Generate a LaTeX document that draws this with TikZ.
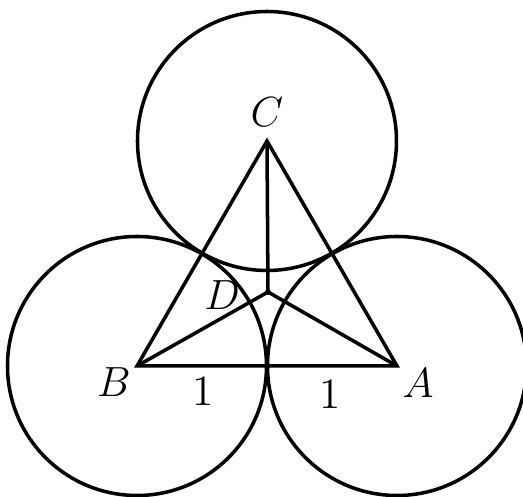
\documentclass[tikz,border=0pt]{standalone}
\usepackage{amsmath, amssymb}
\usepackage{tikz}
\usetikzlibrary{calc}

\begin{document}
\begin{tikzpicture}[x=0.01cm, y=0.01cm, line width=1pt]
    \tikzstyle{lbl} = [inner sep=0pt, font=\fontsize{12.3}{14}\selectfont]
    \tikzstyle{ring} = [draw, line width=1pt]

    \useasboundingbox (0,0) rectangle (523,497);

    % centres of the three circles
    \coordinate (B) at (137,131);
    \coordinate (A) at (397,131);
    \coordinate (C) at (267,356);
    \coordinate (D) at (268,205);

    \draw [ring] (B) circle (129.5);
    \draw [ring] (A) circle (129.5);
    \draw [ring] (C) circle (129.5);

    \draw (A) -- (B) -- (C) -- cycle;
    \draw (D) -- (A);
    \draw (D) -- (B);
    \draw (D) -- (C);
    \fill (D) circle (3);

    \node (labC) [lbl] at (267,385) {$C$};
    \node (labB) [lbl] at (114,115) {$B$};
    \node (labA) [lbl] at (418,114) {$A$};
    \node (labD) [lbl] at (222,202) {$D$};
    \node (lenBM) [lbl] at (203,106) {1};
    \node (lenMA) [lbl] at (330,103) {1};
\end{tikzpicture}
\end{document}
